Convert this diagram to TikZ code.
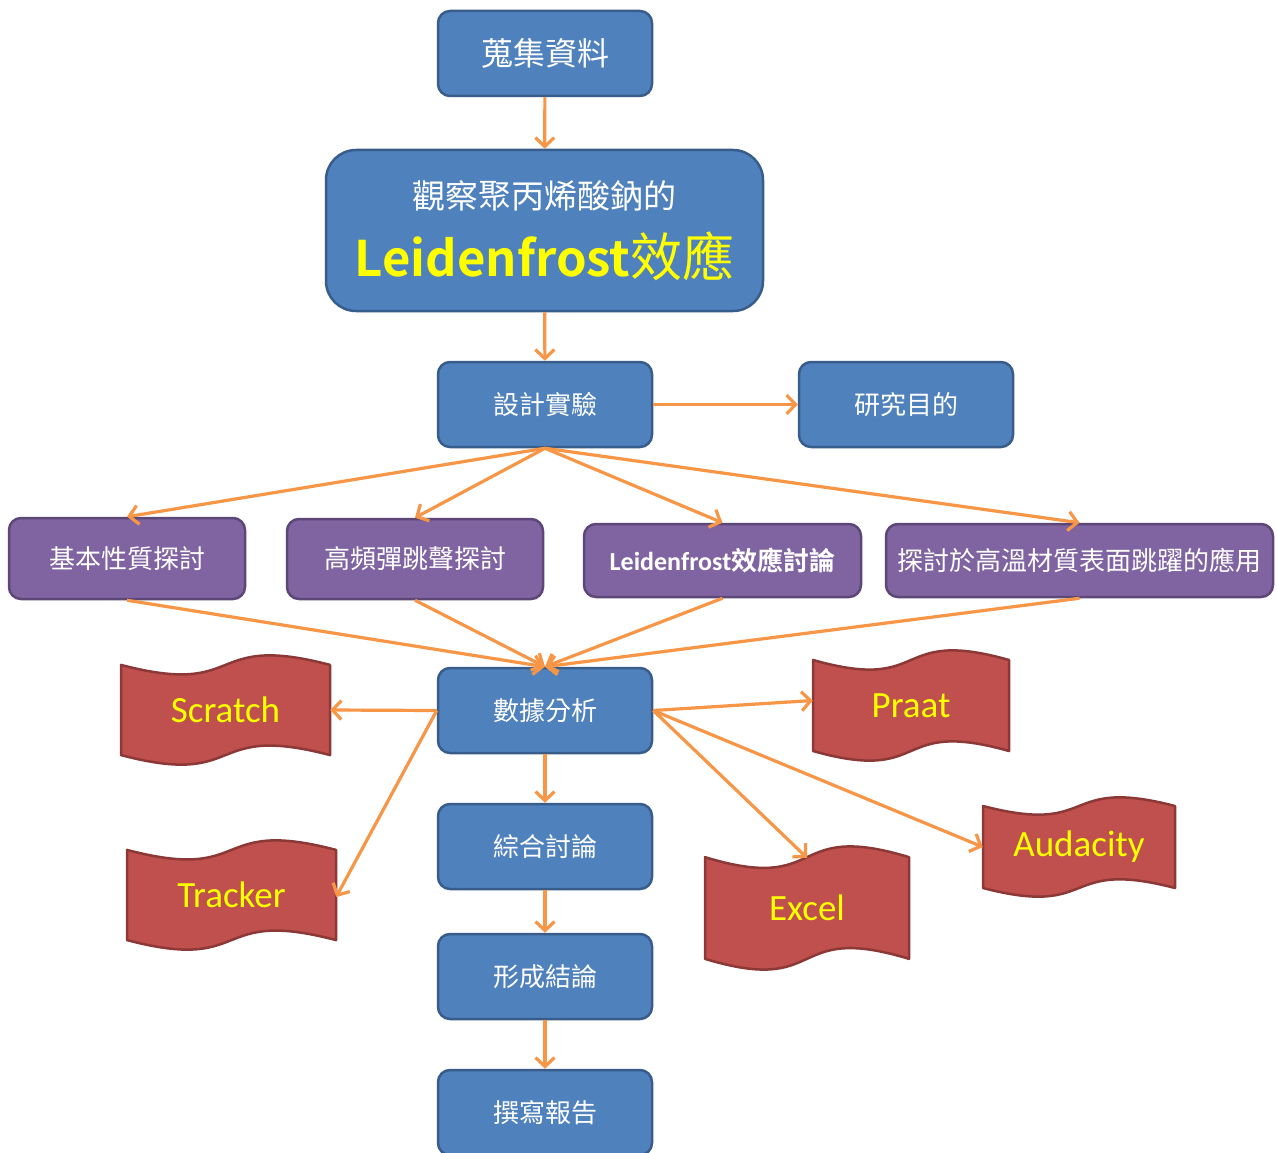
\documentclass[tikz,border=0pt]{standalone}
\usepackage{fontspec}
\setmainfont{Carlito}
\newfontfamily\cjk{Noto Sans CJK TC}[BoldFont={Noto Sans CJK TC Bold}]
\usetikzlibrary{arrows.meta}
\definecolor{bfill}{HTML}{4F81BD}
\definecolor{bdraw}{HTML}{385D8A}
\definecolor{pfill}{HTML}{8064A2}
\definecolor{pdraw}{HTML}{5C4776}
\definecolor{rfill}{HTML}{C0504D}
\definecolor{rdraw}{HTML}{8C3836}
\definecolor{arr}{HTML}{F79646}
\definecolor{ylw}{HTML}{FFFF00}
\tikzset{
  bluebox/.style={rectangle, rounded corners=12pt, fill=bfill, draw=bdraw, line width=2.5pt,
    minimum width=214pt, minimum height=85pt, inner sep=0pt, text=white,
    font=\cjk\fontsize{26}{30}\selectfont},
  purplebox/.style={rectangle, rounded corners=12pt, fill=pfill, draw=pdraw, line width=2.5pt,
    minimum height=76pt, inner sep=0pt, text=white,
    font=\cjk\fontsize{26}{30}\selectfont},
  waveshape/.style={fill=rfill, draw=rdraw, line width=2.5pt, line join=round},
  wavetext/.style={rectangle, inner sep=0pt, text=ylw, font=\fontsize{37}{42}\selectfont},
  conn/.style={draw=arr, line width=3.2pt, -{Straight Barb[length=9pt,width=19pt]}}
}
\newcommand\wavebox[6]{%
  \draw[waveshape] (#2,{#3+0.09*(#5-#3)})
    .. controls ({#2+0.6*(#4-#2)},{#3+0.39*(#5-#3)}) and ({#2+0.4*(#4-#2)},{#3-0.21*(#5-#3)}) ..
    (#4,{#3+0.09*(#5-#3)}) -- (#4,{#5-0.09*(#5-#3)})
    .. controls ({#2+0.4*(#4-#2)},{#5-0.39*(#5-#3)}) and ({#2+0.6*(#4-#2)},{#5+0.21*(#5-#3)}) ..
    (#2,{#5-0.09*(#5-#3)}) -- cycle;
  \node[wavetext, minimum width={(#4-#2)*1pt}, minimum height={(#5-#3)*1pt}] (#1)
    at ({(#2+#4)/2},{(#3+#5)/2}) {#6};
}
\begin{document}
\begin{tikzpicture}[x=1pt,y=-1pt]
\useasboundingbox (0,0) rectangle (1277,1153);
\fill[white] (0,0) rectangle (1277,1153);

% main column
\node[bluebox, font=\cjk\fontsize{32}{36}\selectfont] (collect) at (545,53.5) {蒐集資料};
\node[bluebox, minimum width=437pt, minimum height=161pt, rounded corners=30pt, align=center] (title) at (544.5,230.5)
  {{\cjk\fontsize{33}{40}\selectfont 觀察聚丙烯酸鈉的}\\[20pt]
   {\color{ylw}\fontsize{49}{56}\selectfont\bfseries Leidenfrost{\cjk\mdseries\fontsize{52}{56}\selectfont 效應}}};
\node[bluebox] (design) at (545,404.5) {設計實驗};
\node[bluebox] (purpose) at (906,404.5) {研究目的};

% purple topics
\node[purplebox, minimum width=236pt, minimum height=81pt] (basic) at (127,558.5) {基本性質探討};
\node[purplebox, minimum width=256pt, minimum height=80pt] (freq) at (415,559) {高頻彈跳聲探討};
\node[purplebox, minimum width=277pt, minimum height=73pt, font=\fontsize{26}{30}\selectfont\bfseries] (leid) at (722.5,560.5) {Leidenfrost{\cjk 效應討論}};
\node[purplebox, minimum width=387pt, minimum height=73pt] (apply) at (1079.5,560.5) {探討於高溫材質表面跳躍的應用};

\node[bluebox] (data) at (545,710.5) {數據分析};
\node[bluebox] (discuss) at (545,846.5) {綜合討論};
\node[bluebox] (concl) at (545,976.5) {形成結論};
\node[bluebox] (report) at (545,1112.5) {撰寫報告};

% software banners
\wavebox{scratch}{121}{655}{330}{765}{Scratch}
\wavebox{tracker}{127}{840}{336}{950}{Tracker}
\wavebox{praat}{813}{650}{1009}{761}{Praat}
\wavebox{excel}{705}{846}{909}{970}{Excel}
\wavebox{audacity}{983}{797}{1175}{897}{Audacity}

% connectors
\draw[conn] (collect) -- (title);
\draw[conn] (title) -- (design);
\draw[conn] (design) -- (purpose);
\draw[conn] (design.south) -- (basic.north);
\draw[conn] (design.south) -- (freq.north);
\draw[conn] (design.south) -- (leid.north);
\draw[conn] (design.south) -- (apply.north);
\draw[conn] (basic.south) -- (data.north);
\draw[conn] (freq.south) -- (data.north);
\draw[conn] (leid.south) -- (data.north);
\draw[conn] (apply.south) -- (data.north);
\draw[conn] (data.west) -- (scratch.east);
\draw[conn] (data.west) -- ([yshift=-2pt]tracker.east);
\draw[conn] (data.east) -- ([yshift=5pt]praat.west);
\draw[conn] (data.east) -- ([yshift=-12pt]excel.north);
\draw[conn] (data.east) -- (audacity.west);
\draw[conn] (data) -- (discuss);
\draw[conn] (discuss) -- (concl);
\draw[conn] (concl) -- (report);
\end{tikzpicture}
\end{document}
